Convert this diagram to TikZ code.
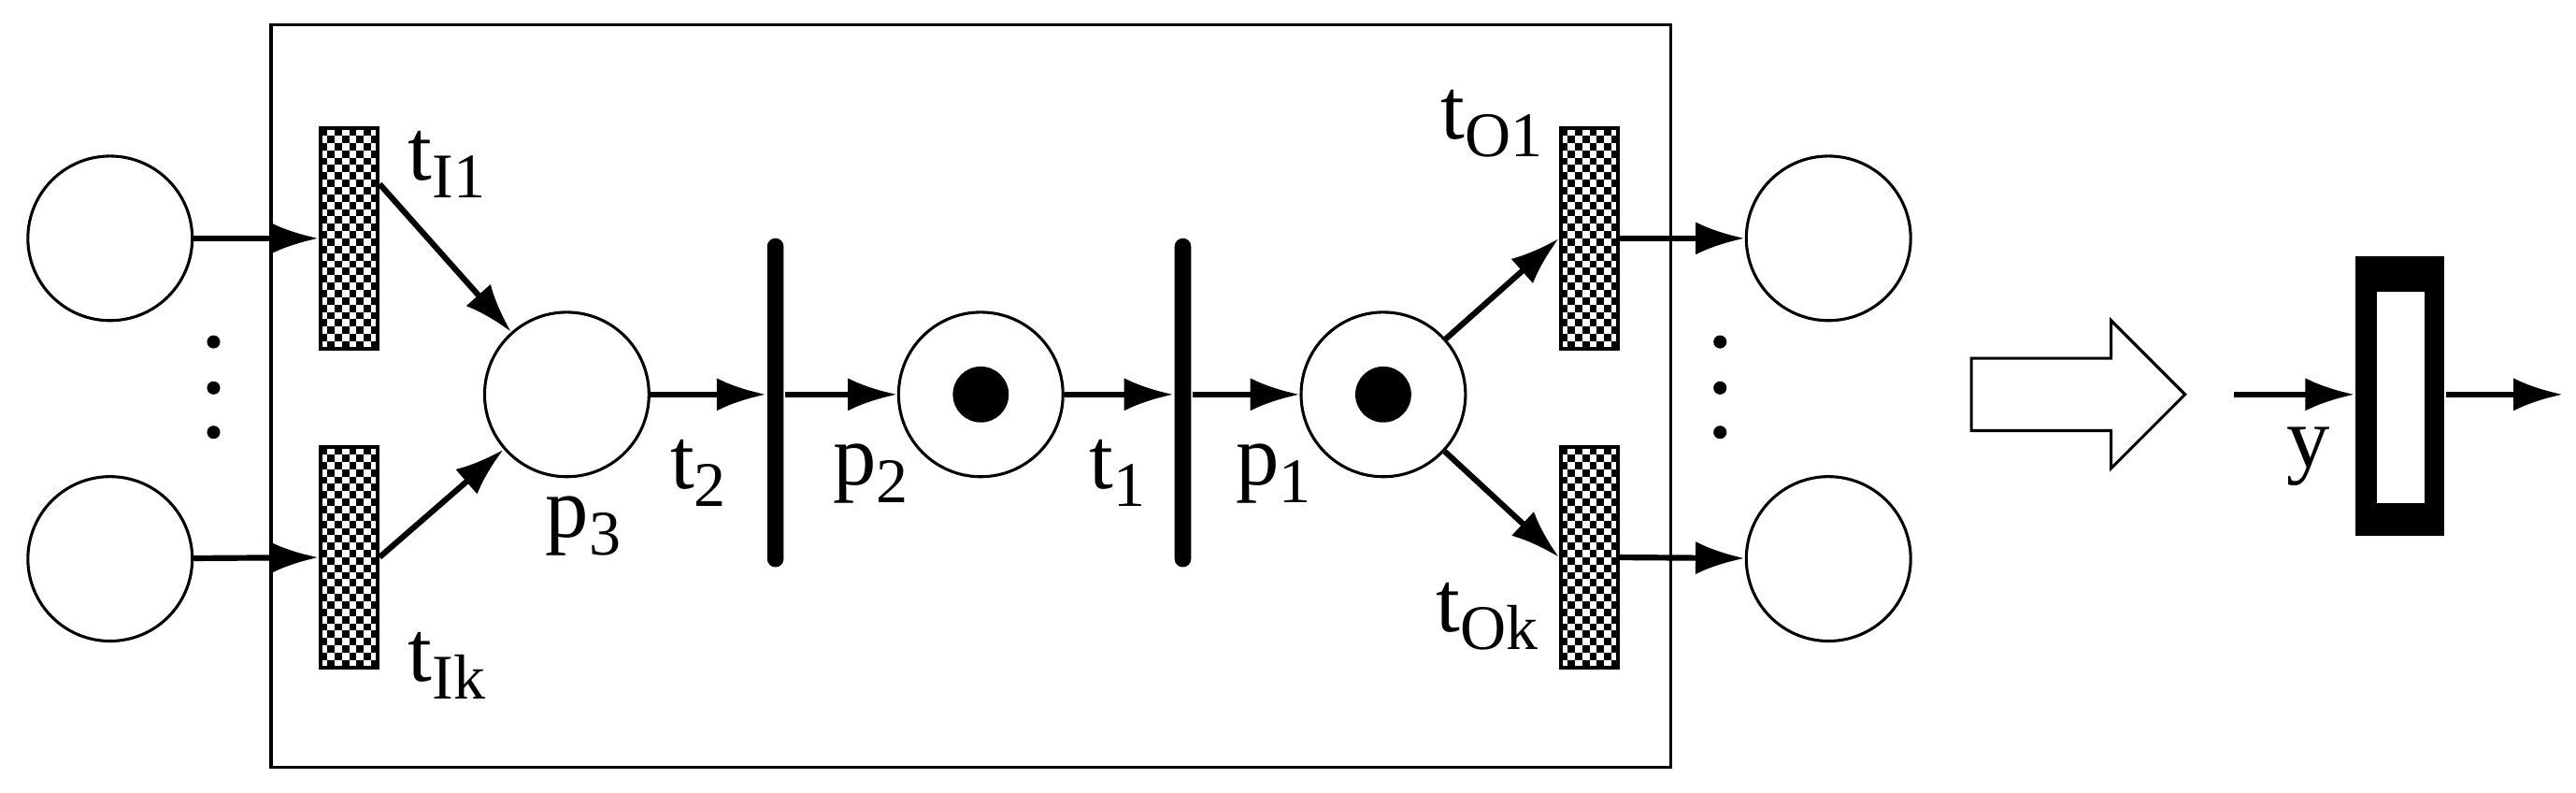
\documentclass[tikz,border=0pt]{standalone}
\usepackage{fontspec}
\setmainfont{Liberation Serif}
\usetikzlibrary{arrows.meta}
\newcommand\sbs[2]{#1\raisebox{-0.45ex}{\fontsize{11}{12}\selectfont #2}}
\newcommand\checkerbox[2]{%
  \foreach \i in {0,...,7}{\foreach \j in {0,...,29}{%
    \pgfmathtruncatemacro\s{mod(\i+\j,2)}%
    \ifnum\s=0 \fill (#1+\i*4.375,#2+\j*4.47) rectangle ++(4.375,4.47);\fi}}}
\begin{document}
\begin{tikzpicture}[x=0.01cm,y=-0.01cm,
  place/.style={circle,draw,line width=0.5pt,minimum size=1cm,inner sep=0pt},
  bar/.style={fill=black,rounded corners=0.5mm,minimum width=0.1cm,minimum height=2cm,inner sep=0pt},
  chk/.style={draw,line width=0.6pt,minimum width=0.35cm,minimum height=1.34cm,inner sep=0pt},
  arc/.style={line width=1pt,-{Latex[length=3mm,width=2mm]}},
  lbl/.style={font=\fontsize{15}{17}\selectfont,inner sep=0pt}]
\useasboundingbox (0,0) rectangle (1568,482);
\draw[line width=0.5pt] (165,15) rectangle (1017,467);
% places
\node[place] (L1) at (67,145) {};
\node[place] (L2) at (67,340) {};
\node[place] (R1) at (1113,145) {};
\node[place] (R2) at (1113,340) {};
\node[place] (p3) at (345,240) {};
\node[place] (p2) at (597,240) {};
\node[place] (p1) at (842,240) {};
\fill (p2) circle (0.17cm);
\fill (p1) circle (0.17cm);
% dots
\foreach \y in {208,236,263}{\fill (130,\y) circle (0.04cm); \fill (1047,\y) circle (0.04cm);}
% checkered transitions
\checkerbox{195}{78}\checkerbox{195}{272}\checkerbox{950}{78}\checkerbox{950}{272}
\node[chk] (tI1) at (212.5,145) {};
\node[chk] (tIk) at (212.5,339) {};
\node[chk] (tO1) at (967.5,145) {};
\node[chk] (tOk) at (967.5,339) {};
% bars
\node[bar] (t2) at (472,245) {};
\node[bar] (t1) at (720,245) {};
% arcs
\draw[arc] (L1) -- (tI1);
\draw[arc] (L2) -- (tIk);
\draw[arc] (tI1.north east |- 0,112) -- (p3);
\draw[arc] (tIk.east) -- (p3);
\draw[arc] (p3) -- (t2.west |- p3);
\draw[arc] (t2.east |- p2) -- (p2);
\draw[arc] (p2) -- (t1.west |- p2);
\draw[arc] (t1.east |- p1) -- (p1);
\draw[arc] (p1) -- (tO1.west);
\draw[arc] (p1) -- (tOk.west);
\draw[arc] (tO1) -- (R1);
\draw[arc] (tOk) -- (R2);
% labels
\node[lbl] (a) at (272,100) {\sbs{t}{I1}};
\node[lbl] (b) at (272,405) {\sbs{t}{Ik}};
\node[lbl] (c) at (908,75) {\sbs{t}{O1}};
\node[lbl] (d) at (905,375) {\sbs{t}{Ok}};
\node[lbl] (e) at (355,320) {\sbs{p}{3}};
\node[lbl] (f) at (425,288) {\sbs{t}{2}};
\node[lbl] (g) at (530,288) {\sbs{p}{2}};
\node[lbl] (h) at (680,288) {\sbs{t}{1}};
\node[lbl] (i) at (775,288) {\sbs{p}{1}};
% hollow arrow
\draw[line width=0.5pt] (1200,218) -- (1285,218) -- (1285,195) -- (1330,240) -- (1285,285) -- (1285,262) -- (1200,262) -- cycle;
% macro transition
\node[fill=black,minimum width=0.54cm,minimum height=1.7cm,inner sep=0pt] (y) at (1461,241) {};
\fill[white] (1447,177.5) rectangle (1476,306);
\coordinate (yin) at (1360,240);
\coordinate (yout) at (1560,240);
\draw[arc] (yin) -- (y.west |- yin);
\draw[arc] (y.east |- yout) -- (yout);
\node[lbl] (yl) at (1405,278) {y};
\end{tikzpicture}
\end{document}
